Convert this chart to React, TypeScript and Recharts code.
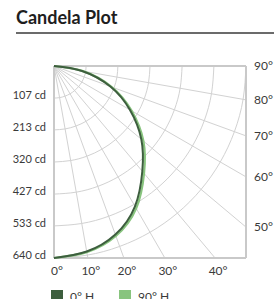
import React from 'react';
import { ComposedChart, Line, XAxis, YAxis, ReferenceLine, Legend } from 'recharts';

// ---- data ----
const ANGLES = [0, 10, 20, 30, 40, 50, 60, 70, 80, 90];
const CANDELA_0H = [640, 628, 598, 540, 458, 380, 292, 200, 95, 0];
const CANDELA_90H = [640, 630, 603, 548, 467, 389, 299, 205, 98, 0];
const RING_VALUES = [107, 213, 320, 427, 533, 640];
const BOTTOM_ANGLE_LABELS = [0, 10, 20, 30, 40];
const RIGHT_ANGLE_LABELS = [90, 80, 70, 60, 50];
const SPOKE_ANGLES = [10, 20, 30, 40, 50, 60, 70, 80];
const SERIES_NAMES = ['0° H', '90° H'];

const MAX = 640;
const rad = (a: number) => (a * Math.PI) / 180;
const toXY = (r: number, a: number) => ({ x: r * Math.sin(rad(a)), y: r * Math.cos(rad(a)) });

const series0 = ANGLES.map((a, i) => toXY(CANDELA_0H[i], a));
const series90 = ANGLES.map((a, i) => toXY(CANDELA_90H[i], a));
const rings = RING_VALUES.map((r) => ANGLES.map((a) => toXY(r, a)));
const spokeEnd = (a: number) =>
  a <= 45 ? { x: MAX * Math.tan(rad(a)), y: MAX } : { x: MAX, y: MAX / Math.tan(rad(a)) };
const bottomTicks = BOTTOM_ANGLE_LABELS.map((a) => MAX * Math.tan(rad(a)));
const rightTicks = RIGHT_ANGLE_LABELS.map((a) => (a === 90 ? 0 : MAX / Math.tan(rad(a))));

const GRID = '#d2d2d2';
const BORDER = '#c9c9c9';
const DARK = '#3d5e3e';
const LIGHT = '#88c47e';
const TEXT = '#3a3a3a';
const FONT = 'Lato, "Open Sans", sans-serif';

const LegendContent = (props: any) => {
  const items = [...(props.payload || [])].filter((p: any) => p.type !== 'none');
  items.sort((a: any, b: any) => SERIES_NAMES.indexOf(a.value) - SERIES_NAMES.indexOf(b.value));
  return (
    <div style={{ display: 'flex', height: 14, paddingLeft: 51, fontFamily: FONT, fontSize: 12, color: TEXT }}>
      {items.map((p: any) => (
        <div key={p.value} style={{ display: 'flex', alignItems: 'flex-start', width: 68 }}>
          <span style={{ display: 'inline-block', width: 12, height: 12, background: p.color, marginRight: 7 }} />
          <span style={{ lineHeight: '14px' }}>{p.value}</span>
        </div>
      ))}
    </div>
  );
};

export default function App() {
  return (
    <div style={{ position: 'absolute', left: 0, top: 0, width: 274, height: 299, overflow: 'hidden', background: '#fff' }}>
      <div
        style={{
          position: 'absolute',
          left: 16,
          top: 6,
          fontFamily: FONT,
          fontWeight: 700,
          fontSize: 18,
          color: '#1e1e1e',
        }}
      >
        Candela Plot
      </div>
      <div style={{ position: 'absolute', left: 16, top: 32, width: 258, height: 0, borderTop: '2px solid #6b6b6b' }} />
      <div style={{ position: 'absolute', left: 0, top: 0 }}>
        <ComposedChart width={274} height={299} margin={{ top: 66, right: 0, left: 8, bottom: 5 }}>
          <XAxis
            type="number"
            dataKey="x"
            domain={[0, MAX]}
            ticks={bottomTicks}
            tickFormatter={(_v: number, i: number) => `${BOTTOM_ANGLE_LABELS[i]}°`}
            axisLine={false}
            tickLine={false}
            height={22}
            interval={0}
            tick={{ fontSize: 12, fill: TEXT, fontFamily: FONT, dx: 3 }}
          />
          <YAxis
            yAxisId={0}
            type="number"
            dataKey="y"
            reversed
            domain={[0, MAX]}
            ticks={RING_VALUES}
            tickFormatter={(v: number) => `${v} cd`}
            axisLine={false}
            tickLine={false}
            width={46}
            interval={0}
            tick={{ fontSize: 11, fill: TEXT, fontFamily: FONT, dy: -3 }}
          />
          <YAxis
            yAxisId="right"
            orientation="right"
            type="number"
            dataKey="y"
            reversed
            domain={[0, MAX]}
            ticks={rightTicks}
            tickFormatter={(_v: number, i: number) => `${RIGHT_ANGLE_LABELS[i]}°`}
            axisLine={false}
            tickLine={false}
            width={28}
            interval={0}
            tick={{ fontSize: 12, fill: TEXT, fontFamily: FONT, textAnchor: 'start' }}
          />
          {SPOKE_ANGLES.map((a) => (
            <ReferenceLine
              key={`s${a}`}
              segment={[{ x: 0, y: 0 }, spokeEnd(a)]}
              stroke={GRID}
              strokeWidth={1}
              ifOverflow="visible"
            />
          ))}
          {rings.map((pts, i) => (
            <Line
              key={`r${i}`}
              yAxisId={i === rings.length - 1 ? 'right' : 0}
              data={pts}
              dataKey="y"
              type="natural"
              stroke={GRID}
              strokeWidth={1}
              dot={false}
              activeDot={false}
              legendType="none"
              isAnimationActive={false}
            />
          ))}
          <ReferenceLine y={0} stroke={BORDER} strokeWidth={2} ifOverflow="visible" />
          <ReferenceLine y={MAX} stroke={BORDER} strokeWidth={2} ifOverflow="visible" />
          <ReferenceLine x={0} stroke={BORDER} strokeWidth={2} ifOverflow="visible" />
          <ReferenceLine x={MAX} stroke={BORDER} strokeWidth={2} ifOverflow="visible" />
          <Line
            name={SERIES_NAMES[1]}
            data={series90}
            dataKey="y"
            type="natural"
            stroke={LIGHT}
            strokeWidth={2.2}
            dot={false}
            activeDot={false}
            isAnimationActive={false}
          />
          <Line
            name={SERIES_NAMES[0]}
            data={series0}
            dataKey="y"
            type="natural"
            stroke={DARK}
            strokeWidth={2}
            dot={false}
            activeDot={false}
            isAnimationActive={false}
          />
          <Legend
            verticalAlign="bottom"
            align="left"
            content={LegendContent}
            wrapperStyle={{ top: 290, left: 0 }}
          />
        </ComposedChart>
      </div>
    </div>
  );
}
